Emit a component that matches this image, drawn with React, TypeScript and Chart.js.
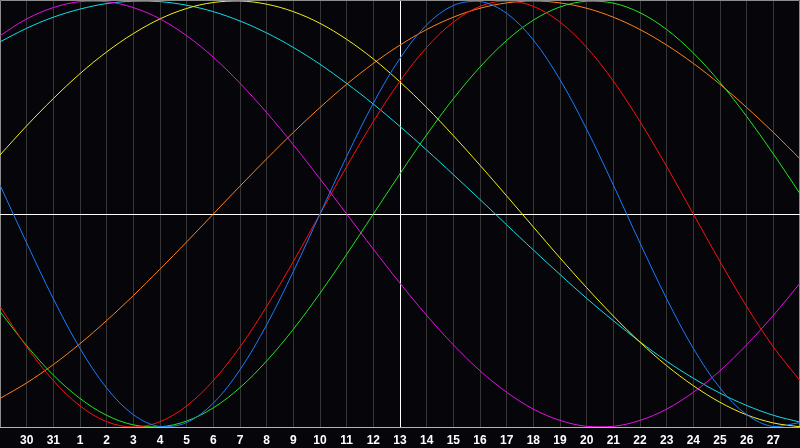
import { useEffect, useRef } from 'react';
import { Chart, registerables } from 'chart.js';

Chart.register(...registerables);

// Day labels (first and last are outside the visible labels)
const DAYS = ['29', '30', '31', '1', '2', '3', '4', '5', '6', '7', '8', '9', '10', '11', '12', '13', '14', '15', '16', '17', '18', '19', '20', '21', '22', '23', '24', '25', '26', '27', '28'];
const TODAY_INDEX = 15;

const BLUE_23 = [0.136, -0.136, -0.398, -0.631, -0.817, -0.942, -0.998, -0.979, -0.888, -0.731, -0.520, -0.270, 0, 0.270, 0.520, 0.731, 0.888, 0.979, 0.998, 0.942, 0.817, 0.631, 0.398, 0.136, -0.136, -0.398, -0.631, -0.817, -0.942, -0.998, -0.979];
const RED_28 = [-0.434, -0.624, -0.782, -0.901, -0.975, -1, -0.975, -0.901, -0.782, -0.624, -0.434, -0.223, 0, 0.223, 0.434, 0.624, 0.782, 0.901, 0.975, 1, 0.975, 0.901, 0.782, 0.624, 0.434, 0.223, 0, -0.223, -0.434, -0.624, -0.782];
const GREEN_33 = [-0.458, -0.618, -0.756, -0.866, -0.945, -0.990, -0.999, -0.972, -0.910, -0.815, -0.690, -0.541, -0.372, -0.189, 0, 0.189, 0.372, 0.541, 0.690, 0.815, 0.910, 0.972, 0.999, 0.990, 0.945, 0.866, 0.756, 0.618, 0.458, 0.282, 0.095];
const MAGENTA_38 = [0.837, 0.916, 0.969, 0.997, 0.997, 0.969, 0.916, 0.837, 0.736, 0.614, 0.476, 0.325, 0.165, 0, -0.165, -0.325, -0.476, -0.614, -0.736, -0.837, -0.916, -0.969, -0.997, -0.997, -0.969, -0.916, -0.837, -0.736, -0.614, -0.476, -0.325];
const YELLOW_43 = [0.277, 0.414, 0.542, 0.659, 0.761, 0.847, 0.916, 0.965, 0.993, 1.0, 0.985, 0.950, 0.895, 0.820, 0.728, 0.620, 0.500, 0.368, 0.229, 0.085, -0.061, -0.206, -0.346, -0.479, -0.602, -0.712, -0.806, -0.884, -0.943, -0.981, -0.999];
const ORANGE_48 = [-0.866, -0.793, -0.707, -0.609, -0.5, -0.383, -0.259, -0.131, 0, 0.131, 0.259, 0.383, 0.5, 0.609, 0.707, 0.793, 0.866, 0.924, 0.966, 0.991, 1, 0.991, 0.966, 0.924, 0.866, 0.793, 0.707, 0.609, 0.5, 0.383, 0.259];
const CYAN_53 = [0.808, 0.872, 0.924, 0.962, 0.988, 0.999, 0.997, 0.980, 0.950, 0.906, 0.850, 0.782, 0.703, 0.613, 0.516, 0.411, 0.300, 0.185, 0.068, -0.051, -0.169, -0.284, -0.396, -0.501, -0.600, -0.691, -0.771, -0.841, -0.899, -0.945, -0.977];

const SERIES = [
  { label: '23', data: BLUE_23, color: '#1a7cff' },
  { label: '28', data: RED_28, color: '#ff1010' },
  { label: '33', data: GREEN_33, color: '#22e622' },
  { label: '38', data: MAGENTA_38, color: '#e810e8' },
  { label: '43', data: YELLOW_43, color: '#f2f21a' },
  { label: '48', data: ORANGE_48, color: '#ff8418' },
  { label: '53', data: CYAN_53, color: '#10e0e8' },
];

const framePlugin = {
  id: 'framePlugin',
  beforeDraw(chart: any) {
    const ctx = chart.ctx;
    ctx.save();
    ctx.fillStyle = '#060509';
    ctx.fillRect(0, 0, chart.width, chart.height);
    ctx.restore();
  },
  beforeDatasetsDraw(chart: any) {
    const { ctx, chartArea, scales } = chart;
    ctx.save();
    // frame
    ctx.strokeStyle = '#8c8c8c';
    ctx.lineWidth = 1;
    ctx.beginPath();
    ctx.moveTo(chartArea.left + 0.5, chartArea.bottom);
    ctx.lineTo(chartArea.left + 0.5, chartArea.top - 0.5);
    ctx.lineTo(chartArea.right - 0.5, chartArea.top - 0.5);
    ctx.lineTo(chartArea.right - 0.5, chartArea.bottom);
    ctx.stroke();
    ctx.strokeStyle = '#b4b4b4';
    ctx.beginPath();
    ctx.moveTo(chartArea.left, chartArea.bottom + 0.5);
    ctx.lineTo(chartArea.right, chartArea.bottom + 0.5);
    ctx.stroke();
    // zero line and today line
    ctx.strokeStyle = '#ffffff';
    const y0 = Math.round(scales.y.getPixelForValue(0)) + 0.5;
    ctx.beginPath();
    ctx.moveTo(chartArea.left, y0);
    ctx.lineTo(chartArea.right, y0);
    ctx.stroke();
    const xt = Math.round(scales.x.getPixelForValue(TODAY_INDEX)) + 0.5;
    ctx.beginPath();
    ctx.moveTo(xt, chartArea.top);
    ctx.lineTo(xt, chartArea.bottom);
    ctx.stroke();
    ctx.restore();
  },
};

export default function App() {
  const ref = useRef<HTMLCanvasElement | null>(null);
  useEffect(() => {
    if (!ref.current) return;
    const chart = new Chart(ref.current, {
      type: 'line',
      data: {
        labels: DAYS,
        datasets: SERIES.map((s) => ({
          label: s.label,
          data: s.data,
          borderColor: s.color,
          backgroundColor: s.color,
          borderWidth: 1,
          pointRadius: 0,
          pointHoverRadius: 0,
          tension: 0.35,
          fill: false,
        })),
      },
      options: {
        animation: false,
        responsive: false,
        maintainAspectRatio: false,
        layout: { autoPadding: false, padding: { top: 1, left: 0, right: 0, bottom: 0 } },
        plugins: { legend: { display: false }, tooltip: { enabled: false } },
        scales: {
          x: {
            type: 'category',
            offset: false,
            grid: { color: '#363636', drawTicks: false, lineWidth: 1 },
            border: { display: false },
            afterFit: (scale: any) => {
              scale.height = 21;
              scale.paddingLeft = 0;
              scale.paddingRight = 0;
            },
            ticks: {
              autoSkip: false,
              maxRotation: 0,
              padding: 6,
              color: '#ffffff',
              font: { family: 'Liberation Sans', size: 12, weight: 'bold' },
              callback: (_v: any, i: number) => (i === 0 || i === DAYS.length - 1 ? '' : DAYS[i]),
            },
          },
          y: {
            display: false,
            min: -1,
            max: 1,
          },
        },
      },
      plugins: [framePlugin],
    });
    return () => chart.destroy();
  }, []);
  return (
    <div style={{ position: 'fixed', left: 0, top: 0, width: 800, height: 448, background: '#060509' }}>
      <canvas ref={ref} width={800} height={448} style={{ display: 'block', width: 800, height: 448 }} />
    </div>
  );
}
